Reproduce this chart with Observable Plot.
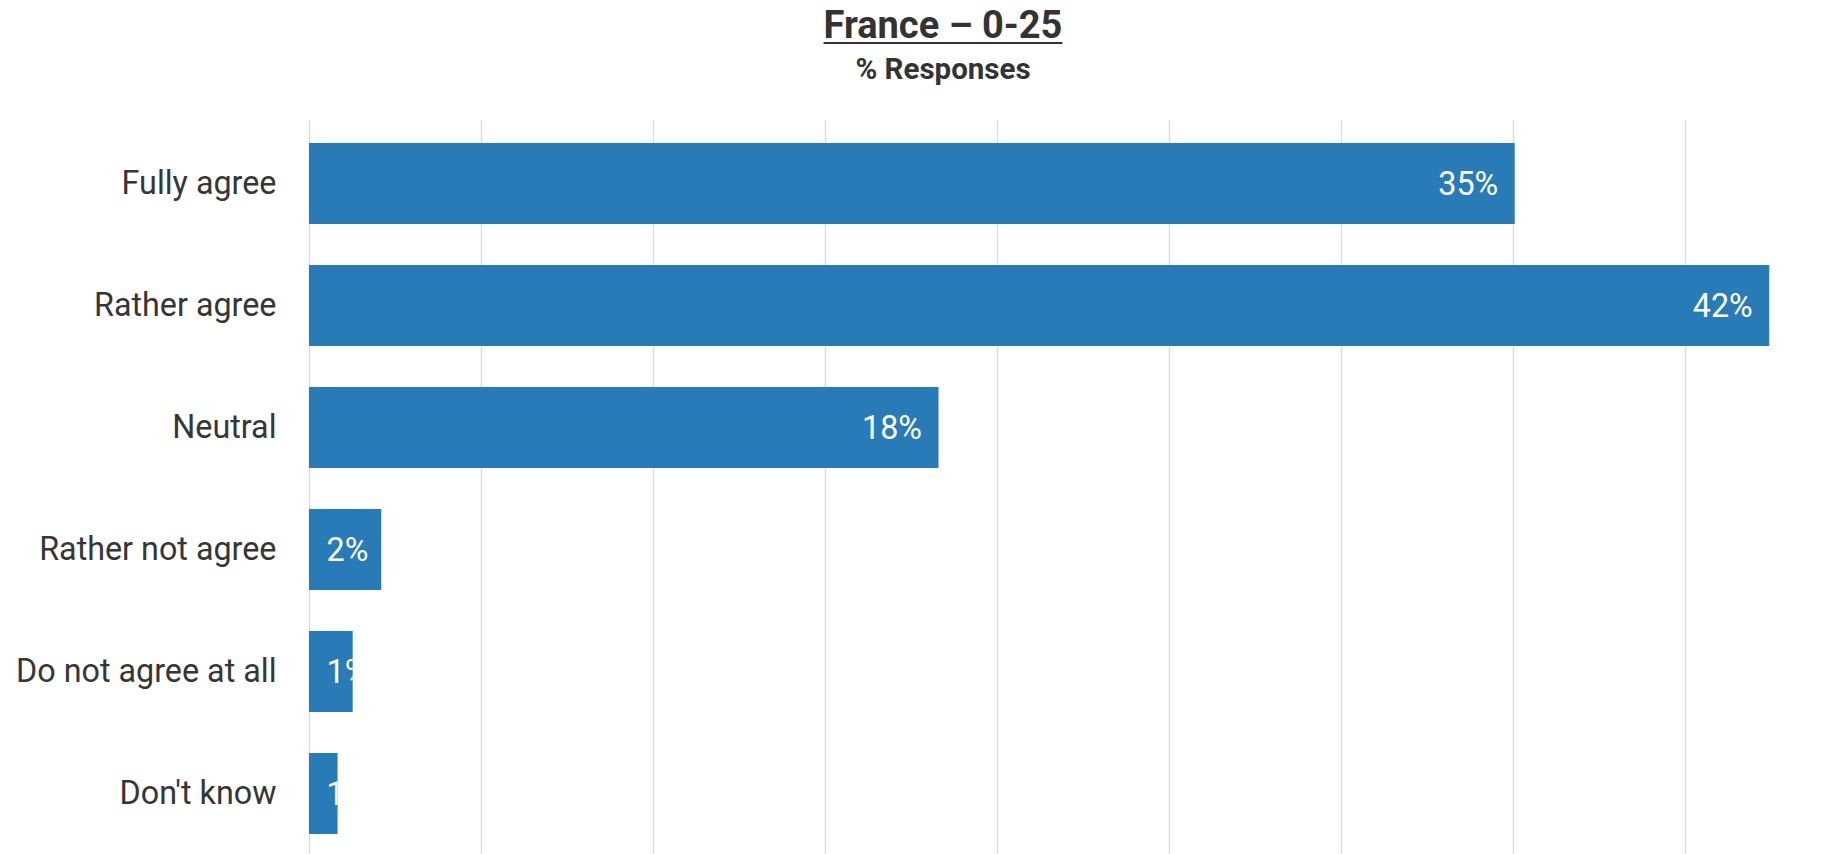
<!DOCTYPE html>
<html>
<head>
<meta charset="utf-8">
<script src="https://cdn.jsdelivr.net/npm/d3@7"></script>
<script src="https://cdn.jsdelivr.net/npm/@observablehq/plot@0.6"></script>
<style>
  html, body { margin: 0; padding: 0; background: #fff; overflow: hidden; }
  body { width: 1847px; height: 854px; font-family: Roboto, "Noto Sans", sans-serif; color: #333; }
  #header { position: relative; height: 100px; }
  #title { position: absolute; left: 39px; width: 1808px; top: 6px; text-align: center;
           font-size: 38px; line-height: 38px; font-weight: 700; text-decoration: underline;
           text-decoration-thickness: 2px; text-underline-offset: 4px; }
  #subtitle { position: absolute; left: 39px; width: 1808px; top: 54px; text-align: center;
              font-size: 29.5px; line-height: 30px; font-weight: 700; }
  svg { display: block; }
</style>
</head>
<body>
<div id="header">
  <div id="title">France – 0-25</div>
  <div id="subtitle">% Responses</div>
</div>
<div id="chart"></div>
<script>
const categories = ["Fully agree", "Rather agree", "Neutral", "Rather not agree", "Do not agree at all", "Don't know"];
const values = [35.05, 42.45, 18.3, 2.1, 1.27, 0.83];
const valueLabels = ["35%", "42%", "18%", "2%", "1%", "1%"];
const gridTicks = [0, 5, 10, 15, 20, 25, 30, 35, 40];

const data = categories.map((c, i) => ({category: c, value: values[i], label: valueLabels[i]}));
const wide = data.filter(d => d.value >= 4);
const narrow = data.filter(d => d.value < 4);

const chart = Plot.plot({
  width: 1847,
  height: 757,
  marginLeft: 309,
  marginRight: 0,
  marginTop: 20,
  marginBottom: 0,
  style: {fontFamily: "Roboto, 'Noto Sans', sans-serif", fontSize: "32.3px", color: "#363636", background: "#fff"},
  x: {domain: [0, 44.71], axis: null},
  y: {domain: categories, label: null, tickSize: 0, tickPadding: 33, paddingInner: 0.333, paddingOuter: 0.167},
  marks: [
    Plot.ruleX(gridTicks, {stroke: "#dcdcdc", strokeWidth: 1.5}),
    Plot.barX(data, {y: "category", x: "value", fill: "#297bb8"}),
    Plot.text(wide, {y: "category", x: "value", text: "label", textAnchor: "end", dx: -17, dy: 1,
                     fill: "white", fontSize: 32.3}),
    Plot.text(narrow, {y: "category", x: () => 0, text: "label", textAnchor: "start", dx: 17, dy: 1,
                       fill: "white", fontSize: 32.3})
  ]
});
document.getElementById("chart").appendChild(chart);

// clip value labels to their bars
const ns = "http://www.w3.org/2000/svg";
const barG = [...chart.querySelectorAll("g")].find(g => g.querySelector(":scope > rect"));
const textGs = [...chart.querySelectorAll('g[fill="white"]')].filter(g => g.querySelector(":scope > text"));
if (barG) {
  const defs = document.createElementNS(ns, "defs");
  const cp = document.createElementNS(ns, "clipPath");
  cp.setAttribute("id", "barclip");
  if (barG.getAttribute("transform")) cp.setAttribute("transform", barG.getAttribute("transform"));
  barG.querySelectorAll(":scope > rect").forEach(r => cp.appendChild(r.cloneNode()));
  defs.appendChild(cp);
  chart.insertBefore(defs, chart.firstChild);
  textGs.forEach(g => {
    const wrap = document.createElementNS(ns, "g");
    wrap.setAttribute("clip-path", "url(#barclip)");
    g.parentNode.insertBefore(wrap, g);
    wrap.appendChild(g);
  });
}
</script>
</body>
</html>
